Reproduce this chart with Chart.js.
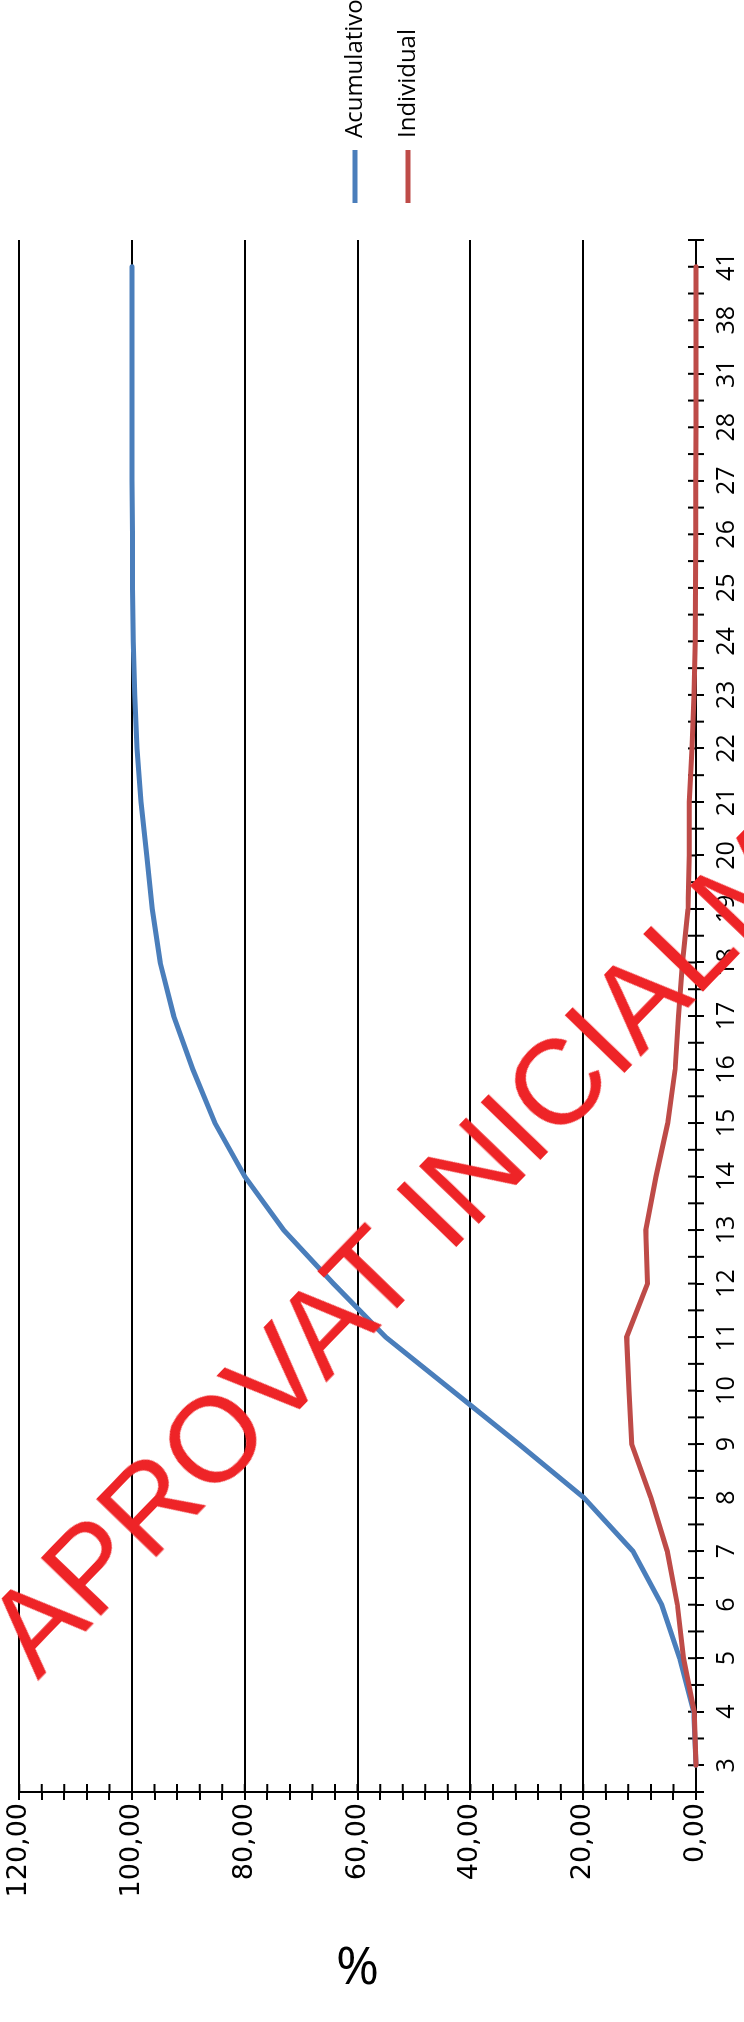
<!DOCTYPE html>
<html>
<head>
<meta charset="utf-8">
<script src="https://cdn.jsdelivr.net/npm/chart.js@4.4.0/dist/chart.umd.min.js"></script>
<style>
  html, body { margin: 0; padding: 0; background: #fff; }
  body { width: 744px; height: 2022px; position: relative; overflow: hidden; }
  /* the chart is laid out landscape and turned a quarter turn */
  #wrap { position: absolute; left: 0; top: 0; width: 2022px; height: 744px;
          transform-origin: 0 0; transform: translateY(2022px) rotate(-90deg); }
  #stamp { position: absolute; left: 44px; top: 1566px; height: 121px; line-height: 121px;
           font: 121px "Liberation Sans", Arial, sans-serif; color: #ee2427; white-space: nowrap;
           transform-origin: 0 100%; transform: rotate(-46deg); pointer-events: none; }
</style>
</head>
<body>
<div id="wrap"><canvas id="chart" width="2022" height="744"></canvas></div>
<div id="stamp">APROVAT INICIALMENT</div>
<script>
const categories = ['3', '4', '5', '6', '7', '8', '9', '10', '11', '12', '13', '14', '15', '16',
  '17', '18', '19', '20', '21', '22', '23', '24', '25', '26', '27', '28', '31', '38', '41'];

const acumulativo = [0, 0.4, 2.9, 6.1, 11.2, 19.9, 31.4, 43.2, 55.0, 64.3, 73.1, 80.0, 85.3, 89.2,
  92.6, 95.0, 96.4, 97.4, 98.4, 99.1, 99.5, 99.8, 99.9, 99.9, 100, 100, 100, 100, 100];

const individual = [0, 0.3, 2.2, 3.3, 5.1, 8.0, 11.4, 11.9, 12.3, 8.6, 8.9, 7.1, 5.0, 3.7,
  3.1, 2.4, 1.4, 1.2, 1.2, 0.7, 0.35, 0.15, 0.08, 0.05, 0.03, 0.02, 0.01, 0.01, 0.01];

const yMax = 120;
const yMajor = 20;
const yMinor = 4;
const tickLen = 8;

// tick marks that cross the axis lines, plus the category boundary ticks
const crossTicks = {
  id: 'crossTicks',
  beforeDatasetsDraw(chart) {
    const { ctx, chartArea, scales: { x, y } } = chart;
    ctx.save();
    ctx.strokeStyle = '#000';
    ctx.lineWidth = 2;
    ctx.beginPath();
    y.ticks.forEach(t => {
      const py = y.getPixelForValue(t.value);
      ctx.moveTo(chartArea.left, py);
      ctx.lineTo(chartArea.left + tickLen, py);
    });
    const half = (x.getPixelForValue(1) - x.getPixelForValue(0)) / 2;
    const b = chartArea.bottom;
    categories.forEach((c, i) => {
      const px = x.getPixelForValue(i);
      ctx.moveTo(px, b);
      ctx.lineTo(px, b - tickLen);
      ctx.moveTo(px - half, b + tickLen);
      ctx.lineTo(px - half, b - tickLen);
    });
    const last = x.getPixelForValue(categories.length - 1) + half;
    ctx.moveTo(last, b + tickLen);
    ctx.lineTo(last, b - tickLen);
    ctx.stroke();
    ctx.restore();
  }
};

const ctx = document.getElementById('chart').getContext('2d');

new Chart(ctx, {
  type: 'line',
  data: {
    labels: categories,
    datasets: [
      {
        label: 'Acumulativo',
        data: acumulativo,
        yAxisID: 'y',
        borderColor: '#4a7ebb',
        backgroundColor: '#4a7ebb',
        borderWidth: 5,
        borderCapStyle: 'round',
        pointRadius: 0,
        tension: 0,
        clip: 6,
        order: 1
      },
      {
        label: 'Individual',
        data: individual,
        yAxisID: 'y',
        borderColor: '#be4b48',
        backgroundColor: '#be4b48',
        borderWidth: 5,
        borderCapStyle: 'round',
        pointRadius: 0,
        tension: 0,
        clip: 6,
        order: 0
      }
    ]
  },
  options: {
    responsive: false,
    animation: false,
    devicePixelRatio: 1,
    layout: { padding: { top: 19, right: 0, bottom: 0, left: 0 } },
    scales: {
      x: {
        offset: true,
        grid: { drawOnChartArea: false, drawTicks: true, tickLength: tickLen, tickColor: '#000', lineWidth: 2, offset: false },
        border: { color: '#000', width: 2 },
        ticks: { color: '#000', font: { family: 'Open Sans', size: 25 }, padding: 8, autoSkip: false, maxRotation: 0 },
        afterFit: s => { s.height = 48; }
      },
      y: {
        min: 0,
        max: yMax,
        grid: {
          color: c => (c.tick && c.tick.value % yMajor === 0) ? '#000' : 'rgba(0,0,0,0)',
          tickColor: '#000',
          lineWidth: 2,
          tickLength: tickLen
        },
        border: { color: '#000', width: 2 },
        ticks: {
          stepSize: yMinor,
          autoSkip: false,
          color: '#000',
          font: { family: 'DejaVu Sans', size: 27 },
          padding: 3,
          callback: v => v % yMajor === 0 ? v.toFixed(2).replace('.', ',') : ''
        },
        title: {
          display: true,
          text: '%',
          color: '#000',
          font: { family: 'Open Sans', size: 52 },
          padding: { top: 29, bottom: 0 }
        },
        afterFit: s => { s.width = 230; }
      },
      // empty strip between the plot and the legend
      gap: {
        axis: 'y',
        position: 'right',
        display: true,
        grid: { display: false },
        border: { display: false },
        ticks: { display: false },
        afterFit: s => { s.width = 8; }
      }
    },
    plugins: {
      legend: {
        position: 'right',
        maxWidth: 232,
        labels: {
          usePointStyle: true,
          pointStyle: 'line',
          pointStyleWidth: 53,
          color: '#000',
          font: { family: 'Open Sans', size: 24 },
          padding: 29,
          sort: (a, b) => a.datasetIndex - b.datasetIndex
        }
      },
      tooltip: { enabled: false }
    }
  },
  plugins: [crossTicks]
});
</script>
</body>
</html>
